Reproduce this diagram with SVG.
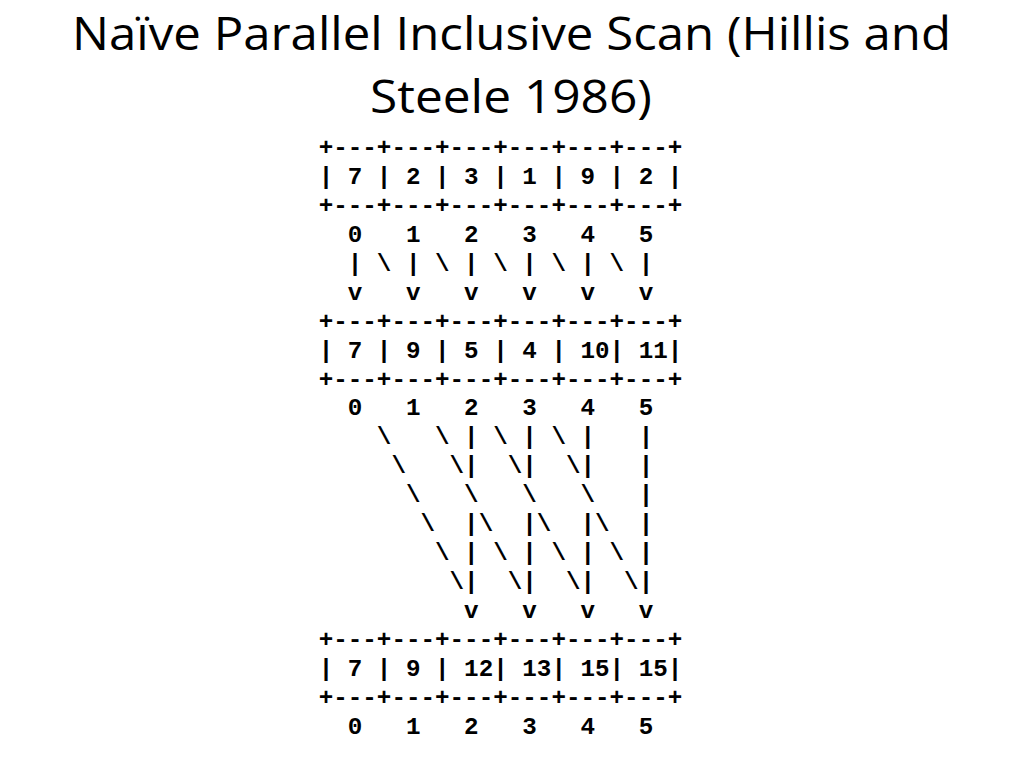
<svg xmlns="http://www.w3.org/2000/svg" width="1024" height="768" viewBox="0 0 1024 768" xml:space="preserve">
<style>
.t{font-family:"Open Sans","Noto Sans","Liberation Sans",sans-serif;font-size:45px;fill:#000}
.m{font-family:"Liberation Mono","Courier New",monospace;font-size:24.24px;font-weight:bold;fill:#000;white-space:pre}
</style>
<rect width="1024" height="768" fill="#fff"/>
<g id="title">
<text class="t" x="72" y="50" textLength="879" lengthAdjust="spacingAndGlyphs">Naïve Parallel Inclusive Scan (Hillis and</text>
<text class="t" x="370" y="113" textLength="282" lengthAdjust="spacingAndGlyphs">Steele 1986)</text>
</g>
<g id="ascii">
<text class="m" xml:space="preserve" x="318.7" y="154.9">+---+---+---+---+---+---+</text>
<text class="m" xml:space="preserve" x="318.7" y="183.8">| 7 | 2 | 3 | 1 | 9 | 2 |</text>
<text class="m" xml:space="preserve" x="318.7" y="212.8">+---+---+---+---+---+---+</text>
<text class="m" xml:space="preserve" x="318.7" y="241.7">  0   1   2   3   4   5</text>
<text class="m" xml:space="preserve" x="318.7" y="270.7">  | \ | \ | \ | \ | \ |</text>
<text class="m" xml:space="preserve" x="318.7" y="299.6">  v   v   v   v   v   v</text>
<text class="m" xml:space="preserve" x="318.7" y="328.6">+---+---+---+---+---+---+</text>
<text class="m" xml:space="preserve" x="318.7" y="357.5">| 7 | 9 | 5 | 4 | 10| 11|</text>
<text class="m" xml:space="preserve" x="318.7" y="386.5">+---+---+---+---+---+---+</text>
<text class="m" xml:space="preserve" x="318.7" y="415.4">  0   1   2   3   4   5</text>
<text class="m" xml:space="preserve" x="318.7" y="444.4">    \   \ | \ | \ |   |</text>
<text class="m" xml:space="preserve" x="318.7" y="473.3">     \   \|  \|  \|   |</text>
<text class="m" xml:space="preserve" x="318.7" y="502.3">      \   \   \   \   |</text>
<text class="m" xml:space="preserve" x="318.7" y="531.2">       \  |\  |\  |\  |</text>
<text class="m" xml:space="preserve" x="318.7" y="560.2">        \ | \ | \ | \ |</text>
<text class="m" xml:space="preserve" x="318.7" y="589.1">         \|  \|  \|  \|</text>
<text class="m" xml:space="preserve" x="318.7" y="618.1">          v   v   v   v</text>
<text class="m" xml:space="preserve" x="318.7" y="647.0">+---+---+---+---+---+---+</text>
<text class="m" xml:space="preserve" x="318.7" y="676.0">| 7 | 9 | 12| 13| 15| 15|</text>
<text class="m" xml:space="preserve" x="318.7" y="704.9">+---+---+---+---+---+---+</text>
<text class="m" xml:space="preserve" x="318.7" y="733.9">  0   1   2   3   4   5</text>
</g>
</svg>
